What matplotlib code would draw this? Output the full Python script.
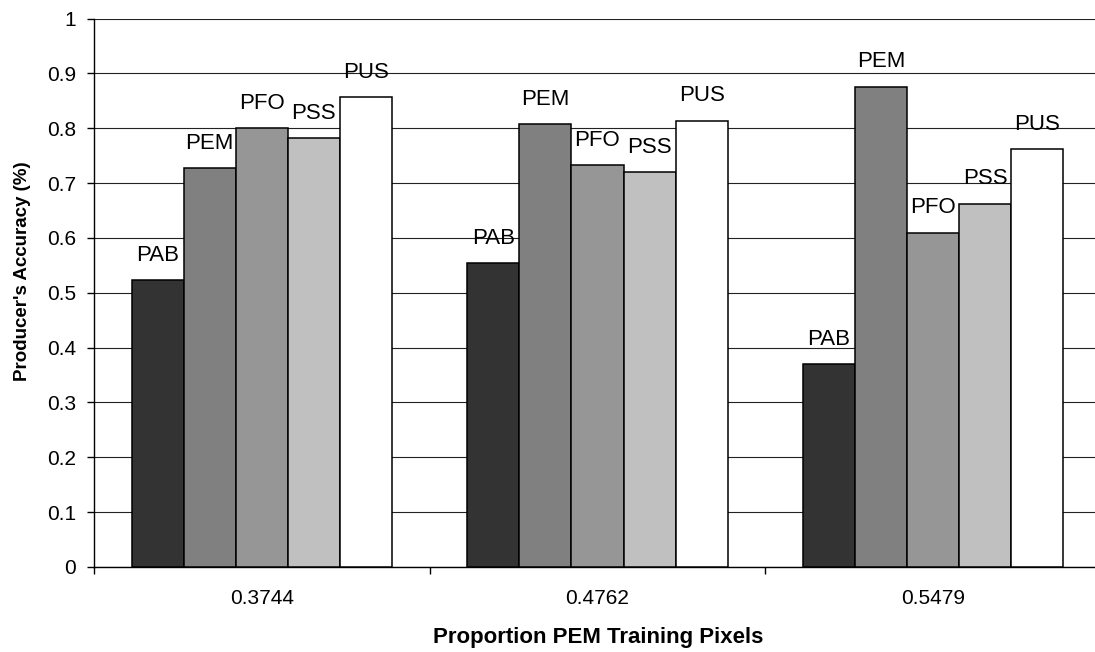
import numpy as np
import matplotlib
matplotlib.use("Agg")
import matplotlib.pyplot as plt


groups = ["0.3744", "0.4762", "0.5479"]
classes = ["PAB", "PEM", "PFO", "PSS", "PUS"]
colors = ["#333333", "#808080", "#969696", "#C0C0C0", "#FFFFFF"]

pab = [0.523, 0.554, 0.370]
pem = [0.727, 0.807, 0.876]
pfo = [0.800, 0.732, 0.609]
pss = [0.782, 0.720, 0.662]
pus = [0.856, 0.814, 0.762]
series = [pab, pem, pfo, pss, pus]

plt.rcParams["font.family"] = ["Liberation Sans", "DejaVu Sans"]

fig = plt.figure(figsize=(10.95, 6.52), dpi=100)
ax = fig.add_axes([94 / 1095, 85 / 652, 1007 / 1095, 548.5 / 652])

x = np.arange(len(groups))
group_width = 0.776
bar_w = group_width / len(classes)

for i, (name, vals, col) in enumerate(zip(classes, series, colors)):
    pos = x - group_width / 2 + bar_w * (i + 0.5)
    bars = ax.bar(pos, vals, width=bar_w, color=col, edgecolor="black",
                  linewidth=1.1, zorder=3)
    for b in bars:
        ax.annotate(name, (b.get_x() + b.get_width() / 2, b.get_height()),
                    xytext=(0, 18), textcoords="offset points",
                    ha="center", va="center", fontsize=16, zorder=4)

ax.set_xlim(-0.5, len(groups) - 0.5)
ax.set_ylim(0, 1)
ax.set_yticks(np.arange(0, 1.01, 0.1))
ax.set_yticklabels(["0", "0.1", "0.2", "0.3", "0.4", "0.5", "0.6",
                    "0.7", "0.8", "0.9", "1"], fontsize=15)

# category boundaries as major ticks, labels at centers
ax.set_xticks(np.arange(-0.5, len(groups), 1.0))
ax.set_xticklabels([])
ax.set_xticks(x, minor=True)
ax.set_xticklabels(groups, minor=True, fontsize=15)
ax.tick_params(axis="x", which="major", direction="out", length=5, width=1, color="black")
ax.tick_params(axis="x", which="minor", length=0, pad=16)
ax.tick_params(axis="y", direction="out", length=5, width=1, pad=8)

ax.grid(axis="y", color="#222222", linewidth=0.8, zorder=0)
for side in ["top", "right"]:
    ax.spines[side].set_visible(False)
ax.spines["left"].set_linewidth(1)
ax.spines["bottom"].set_linewidth(1)

fig.text(598 / 1095, 1 - 638 / 652, "Proportion PEM Training Pixels",
         ha="center", va="center", fontsize=16, fontweight="bold")
fig.text(23 / 1095, 1 - 271 / 652, "Producer's Accuracy (%)",
         ha="center", va="center", rotation=90, fontsize=13.5, fontweight="bold")

fig.savefig("out.png", dpi=100)
